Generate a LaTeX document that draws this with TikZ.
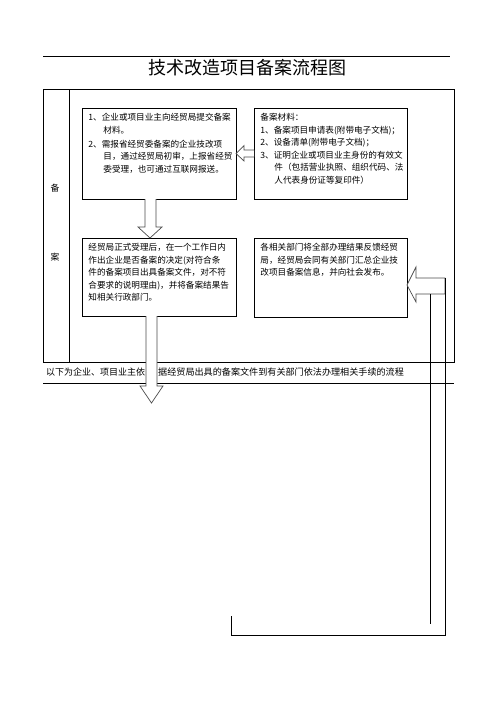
\documentclass[tikz,border=0pt]{standalone}
\usepackage{fontspec}
\newfontfamily\cjk{Noto Sans CJK SC}

\begin{document}
\begin{tikzpicture}[x=1pt, y=-1pt,
  box/.style={draw, line width=0.9pt, anchor=north west, inner xsep=6pt, inner ysep=5pt,
    font=\cjk\fontsize{8.6}{12.5}\selectfont},
  lbl/.style={font=\cjk\fontsize{8.8}{12.5}\selectfont, inner sep=0pt},
  hollow/.style={draw=black!70, fill=white, line width=0.7pt},
  frame/.style={line width=1pt}]
\useasboundingbox (0,0) rectangle (496,702);
% title
\draw[frame] (43,56) -- (450,56);
\node[font=\cjk\fontsize{18}{20}\selectfont] (title) at (247,68) {技术改造项目备案流程图};
% frame
\draw[frame] (43,89) rectangle (454,362);
\draw[frame] (69,89) -- (69,362);
\draw[frame] (43,383) -- (454,383);
\node[lbl] (bei) at (55,188) {备};
\node[lbl] (an) at (55,257) {案};
% boxes
\node[box] (s1) at (82,108) {\parbox[c][81pt][t]{142pt}{%
  1、企业或项目业主向经贸局提交备案\\
  \hspace*{15pt}材料。\\[1.5pt]
  2、需报省经贸委备案的企业技改项\\
  \hspace*{15pt}目，通过经贸局初审，上报省经贸\\
  \hspace*{15pt}委受理，也可通过互联网报送。}};
\node[box] (s2) at (254,108) {\parbox[c][81pt][t]{141pt}{%
  备案材料：\\
  1、备案项目申请表(附带电子文档)；\\
  2、设备清单(附带电子文档)；\\
  3、证明企业或项目业主身份的有效文\\
  \hspace*{14pt}件（包括营业执照、组织代码、法\\
  \hspace*{14pt}人代表身份证等复印件）}};
\node[box] (s3) at (82,238) {\parbox[c][68pt][t]{142pt}{%
  经贸局正式受理后，在一个工作日内\\
  作出企业是否备案的决定(对符合条\\
  件的备案项目出具备案文件，对不符\\
  合要求的说明理由)，并将备案结果告\\
  知相关行政部门。}};
\node[box] (s4) at (254,238) {\parbox[c][69pt][t]{141pt}{%
  各相关部门将全部办理结果反馈经贸\\
  局，经贸局会同有关部门汇总企业技\\
  改项目备案信息，并向社会发布。}};
% band text
\node[lbl, anchor=west, font=\cjk\fontsize{9}{11}\selectfont] (band1) at (46,372) {以下为企业、项目业主依};
\node[lbl, anchor=west, font=\cjk\fontsize{9.1}{11}\selectfont] (band2) at (158,372) {据经贸局出具的备案文件到有关部门依法办理相关手续的流程};
% hollow arrows
\draw[hollow] (145,199) -- (145,227) -- (138,227) -- (150,238) -- (162,227) -- (156,227) -- (156,199);
\draw[hollow] (254,150) -- (244,150) -- (244,145.5) -- (236,153.5) -- (244,161) -- (244,157) -- (254,157);
\draw[hollow] (146,316) -- (146,386) -- (140,386) -- (151.5,403) -- (163,386) -- (157,386) -- (157,316);
\draw[hollow] (445,278) -- (416,278) -- (416,267) -- (407,285) -- (416,302) -- (416,294) -- (445,294) -- cycle;
% feedback lines
\draw[frame] (445,278) -- (445,635) -- (231,635) -- (231,616);
\draw[frame] (430,294) -- (430,624);
\end{tikzpicture}
\end{document}
